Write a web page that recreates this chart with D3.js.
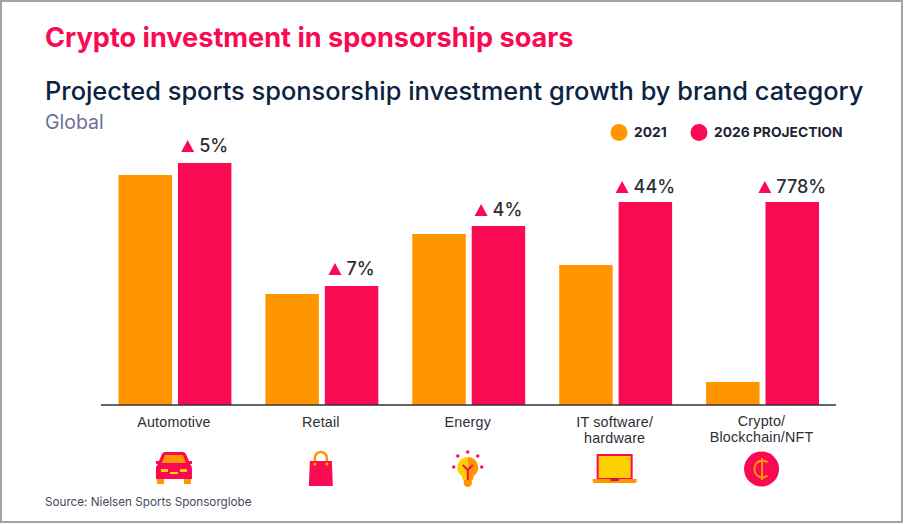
<!DOCTYPE html>
<html>
<head>
<meta charset="utf-8">
<script src="https://cdn.jsdelivr.net/npm/d3@7"></script>
<style>
  html, body { margin: 0; padding: 0; background: #fff; }
  svg { display: block; font-family: Inter, "Noto Sans", sans-serif; }
</style>
</head>
<body>
<svg id="chart" width="904" height="524"></svg>
<script>
const categories = ["Automotive", "Retail", "Energy", "IT software/\nhardware", "Crypto/\nBlockchain/NFT"];
const series = ["2021", "2026 PROJECTION"];
const values2021 = [230, 111, 171, 140, 23];
const values2026 = [242, 119, 179, 203, 203];
const growthLabels = ["5%", "7%", "4%", "44%", "778%"];
const iconNames = ["car", "bag", "bulb", "laptop", "coin"];

const ORANGE = "#ff9600", PINK = "#f90a53", NAVY = "#0c2340", DARK = "#2b2f38", YELLOW = "#ffd000";

const svg = d3.select("#chart");

// Frame: thin grey rule around the whole panel
svg.append("rect").attr("x", 1).attr("y", 1).attr("width", 901).attr("height", 521)
  .attr("fill", "none").attr("stroke", "#a3a3a3").attr("stroke-width", 2);

// Headings
svg.append("text").attr("x", 45).attr("y", 47)
  .attr("font-size", 27.1).attr("font-weight", 700).attr("fill", PINK)
  .text("Crypto investment in sponsorship soars");
svg.append("text").attr("x", 45).attr("y", 100)
  .attr("font-size", 25.4).attr("font-weight", 500).attr("fill", NAVY)
  .text("Projected sports sponsorship investment growth by brand category");
svg.append("text").attr("x", 45).attr("y", 129)
  .attr("font-size", 19.5).attr("fill", "#6c7096").text("Global");

// Legend
const legendX = [619, 699];
series.forEach((name, i) => {
  svg.append("circle").attr("cx", legendX[i]).attr("cy", 132.5).attr("r", 8.5)
    .attr("fill", i ? PINK : ORANGE);
  svg.append("text").attr("x", legendX[i] + 15).attr("y", 137)
    .attr("font-size", 13.8).attr("font-weight", 700).attr("fill", "#1d2433").text(name);
});

// Scales
const baseline = 405;
const x = d3.scaleBand().domain(categories).range([101.5, 836])
  .paddingInner(34 / 147).paddingOuter(17 / 147);
const sub = d3.scaleBand().domain(series).range([0, x.bandwidth()]).paddingInner(0.1);
const y = d3.scaleLinear().domain([0, 250]).range([baseline, baseline - 250]);

// Bars, one group per brand category
const groups = svg.append("g").selectAll("g").data(categories).join("g")
  .attr("transform", d => `translate(${x(d)},0)`);

groups.selectAll("rect")
  .data((d, i) => [
    { s: series[0], v: values2021[i], c: ORANGE },
    { s: series[1], v: values2026[i], c: PINK }
  ])
  .join("rect")
  .attr("x", d => sub(d.s)).attr("width", sub.bandwidth())
  .attr("y", d => y(d.v)).attr("height", d => y(0) - y(d.v))
  .attr("fill", d => d.c);

// Growth labels above the projection bars
const labelLift = [11, 11, 10, 9, 9];
groups.each(function (d, i) {
  const g = d3.select(this);
  const bx = sub(series[1]) + sub.bandwidth() / 2;
  const top = y(values2026[i]);
  const label = g.append("text").attr("y", top - labelLift[i])
    .attr("font-size", 18).attr("font-weight", 500).attr("fill", DARK)
    .text(growthLabels[i]);
  const w = label.node().getComputedTextLength();
  const total = 13 + 5 + w;
  const left = bx - total / 2;
  label.attr("x", left + 18);
  g.append("path")
    .attr("d", d3.line()([[left, top - labelLift[i]], [left + 13, top - labelLift[i]], [left + 6.5, top - labelLift[i] - 12]]) + "Z")
    .attr("fill", PINK);
});

// Category axis with wrapped labels
const axis = svg.append("g").attr("transform", `translate(0,${baseline})`)
  .call(d3.axisBottom(x).tickSize(0).tickFormat(""));
axis.select(".domain").attr("d", "M101,0H836").attr("stroke", "#333").attr("stroke-width", 1.5);
axis.selectAll(".tick text").remove();
axis.selectAll(".tick").each(function (d) {
  const lines = d.split("\n");
  const t = d3.select(this).append("text").attr("text-anchor", "middle")
    .attr("font-size", 14.3).attr("font-weight", 500).attr("letter-spacing", 0.2).attr("fill", DARK);
  const startY = d.startsWith("Crypto") ? 21 : 22;
  lines.forEach((line, k) => {
    t.append("tspan").attr("x", -1).attr("y", startY + k * 16).text(line);
  });
});

// Category pictograms, each drawn around its own centre
const icons = {
  car(g) {
    g.append("path").attr("d", "M-17,10h7v7h-7zM10,10h7v7h-7z").attr("fill", ORANGE);
    g.append("path").attr("d", "M-18,-6h3l3,-7q1,-2 3,-2h18q2,0 3,2l3,7h3v3h-2q2,2 2,4v11h-36v-11q0,-2 2,-4h-2z").attr("fill", PINK);
    g.append("path").attr("d", "M-12,-4l3,-8h18l3,8z").attr("fill", ORANGE);
    g.append("path").attr("d", "M-13,2h7v3h-7zM6,2h7v3h-7zM-4,5h8v2h-8z").attr("fill", YELLOW);
  },
  bag(g) {
    g.append("path").attr("d", "M-6,-7v-4a6,6 0 0 1 12,0v4").attr("fill", "none").attr("stroke", ORANGE).attr("stroke-width", 2.5);
    g.append("path").attr("d", "M-11,-8h22l1,25h-24z").attr("fill", PINK);
    g.append("circle").attr("cx", -6).attr("cy", -5).attr("r", 1.7).attr("fill", ORANGE);
    g.append("circle").attr("cx", 6).attr("cy", -5).attr("r", 1.7).attr("fill", ORANGE);
  },
  bulb(g) {
    g.append("path").attr("d", "M0,-11a10.5,10.5 0 0 0 -6,19l1,4h5z").attr("fill", YELLOW);
    g.append("path").attr("d", "M0,-11a10.5,10.5 0 0 1 6,19l-1,4h-5z").attr("fill", ORANGE);
    g.append("path").attr("d", "M-4,12h8v4q-1,3 -4,3t-4,-3z").attr("fill", ORANGE);
    g.append("path").attr("d", "M-5,-3L0,2L5,-3M0,2V12").attr("fill", "none").attr("stroke", PINK).attr("stroke-width", 2);
    [[0, -16], [-10, -12], [10, -12], [-14, -1], [14, -1]].forEach(([px, py]) =>
      g.append("circle").attr("cx", px).attr("cy", py).attr("r", 1.7).attr("fill", PINK));
  },
  laptop(g) {
    g.append("rect").attr("x", -17).attr("y", -13).attr("width", 34).attr("height", 24)
      .attr("fill", YELLOW).attr("stroke", PINK).attr("stroke-width", 2);
    g.append("path").attr("d", "M-22,11h44v2q0,2 -2,2h-40q-2,0 -2,-2z").attr("fill", ORANGE);
    g.append("path").attr("d", "M-5,10h10l-1,3h-8z").attr("fill", "#c9184a");
  },
  coin(g) {
    g.append("circle").attr("r", 17.5).attr("fill", PINK);
    g.append("path").attr("d", "M6,-6.5A8,8.5 0 1 0 6,6.5").attr("fill", "none").attr("stroke", ORANGE).attr("stroke-width", 2);
    g.append("path").attr("d", "M0.5,-11V11").attr("fill", "none").attr("stroke", ORANGE).attr("stroke-width", 2);
  }
};
const iconY = [467, 469, 468, 468, 469];
iconNames.forEach((name, i) => {
  const g = svg.append("g")
    .attr("transform", `translate(${x(categories[i]) + x.bandwidth() / 2 - 1},${iconY[i]})`);
  icons[name](g);
});

// Source note
svg.append("text").attr("x", 45).attr("y", 506)
  .attr("font-size", 11.7).attr("fill", "#454a5c").text("Source: Nielsen Sports Sponsorglobe");
</script>
</body>
</html>
